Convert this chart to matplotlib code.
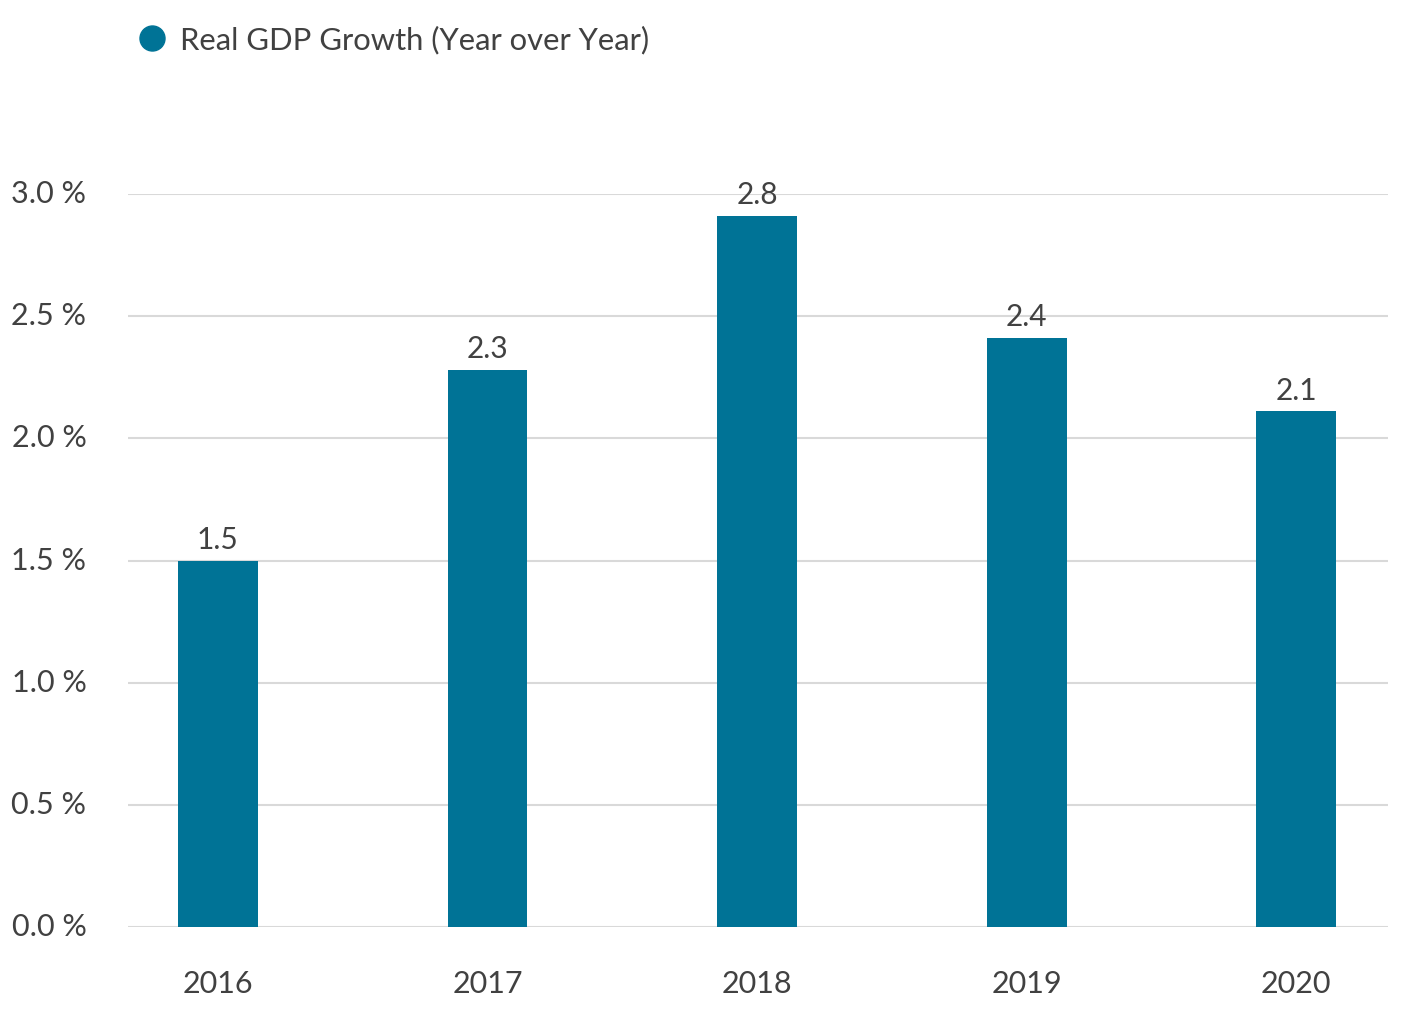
import matplotlib.pyplot as plt
from matplotlib.lines import Line2D

years = ['2016', '2017', '2018', '2019', '2020']
growth = [1.5, 2.28, 2.91, 2.41, 2.11]
labels = ['1.5', '2.3', '2.8', '2.4', '2.1']
yticks = [0.0, 0.5, 1.0, 1.5, 2.0, 2.5, 3.0]

barColor = '#007396'
textColor = '#414141'

plt.rcParams['font.family'] = ['Lato', 'DejaVu Sans']

fig = plt.figure(figsize=(14.04, 10.24), dpi=100)
ax = fig.add_axes([0.0912, 0.0947, 0.8974, 0.7158])

xs = list(range(len(years)))
ax.bar(xs, growth, width=0.296, color=barColor, zorder=2)
for x, val, lab in zip(xs, growth, labels):
    ax.annotate(lab, (x, val), xytext=(0, 5), textcoords='offset points',
                ha='center', va='bottom', fontsize=21.5, color=textColor,
                annotation_clip=False)

ax.set_xlim(-0.333, 4.34)
ax.set_ylim(0, 3.0)
ax.set_yticks(yticks)
ax.set_yticklabels([f'{t:.1f} %' for t in yticks])
ax.set_xticks(xs)
ax.set_xticklabels(years)
ax.tick_params(axis='both', length=0, labelsize=22, labelcolor=textColor)
ax.tick_params(axis='x', pad=31)
ax.tick_params(axis='y', pad=30)
for lbl in ax.get_yticklabels():
    lbl.set_verticalalignment('center')

ax.grid(axis='y', color='#d9d9d9', linewidth=1.5, zorder=0)
for s in ax.spines.values():
    s.set_visible(False)

handle = Line2D([], [], marker='o', linestyle='none', markersize=18,
                color=barColor)
fig.legend([handle], ['Real GDP Growth (Year over Year)'],
           loc='center left', bbox_to_anchor=(0.086, 0.961), frameon=False,
           fontsize=22.3, labelcolor=textColor, handletextpad=0.3,
           borderaxespad=0, handlelength=1.2)

fig.savefig('out.png', dpi=100)
